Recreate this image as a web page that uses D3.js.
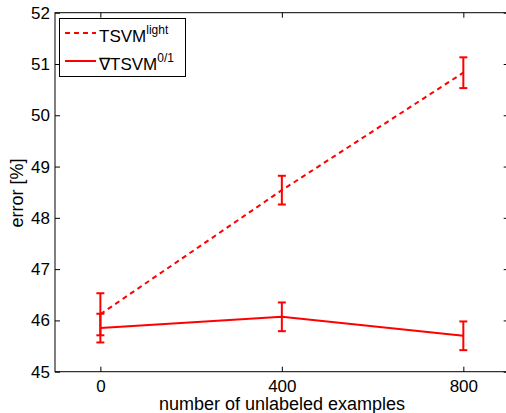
<!DOCTYPE html>
<html>
<head>
<meta charset="utf-8">
<script src="https://cdn.jsdelivr.net/npm/d3@7"></script>
<style>
  body { margin: 0; background: #fff; }
  svg { font-family: "Liberation Sans", Arial, sans-serif; }
</style>
</head>
<body>
<div id="chart"></div>
<script>
// data
const unlabeled = [0, 400, 800];
const tsvmLight = [46.12, 48.54, 50.83];
const tsvmLightErr = [0.41, 0.28, 0.30];
const gradTsvm = [45.85, 46.07, 45.70];
const gradTsvmErr = [0.28, 0.28, 0.28];
const xTicks = [0, 400, 800];
const yTicks = [45, 46, 47, 48, 49, 50, 51, 52];

const width = 506, height = 413;
const red = '#ff0000';

const svg = d3.select('#chart').append('svg')
    .attr('width', width)
    .attr('height', height);

const x = d3.scaleLinear().domain([-100, 900]).range([55, 508.7]);
const y = d3.scaleLinear().domain([45, 52]).range([371.7, 12.7]);

// axes box
const g = svg.append('g');
g.append('rect')
    .attr('x', x(-100)).attr('y', y(52))
    .attr('width', x(900) - x(-100)).attr('height', y(45) - y(52))
    .attr('fill', 'none').attr('stroke', '#000').attr('stroke-width', 1);

// ticks (inward, on all four sides like matlab)
const tl = 5;
const fmt = d3.format('d');
g.append('g')
    .attr('transform', `translate(0,${y(45)})`)
    .call(d3.axisBottom(x).tickValues(xTicks).tickFormat(fmt).tickSizeInner(-tl).tickSizeOuter(0).tickPadding(8))
    .call(a => a.select('.domain').remove());
g.append('g')
    .attr('transform', `translate(0,${y(52)})`)
    .call(d3.axisTop(x).tickValues(xTicks).tickSizeInner(-tl).tickSizeOuter(0).tickFormat(''))
    .call(a => a.select('.domain').remove());
g.append('g')
    .attr('transform', `translate(${x(-100)},0)`)
    .call(d3.axisLeft(y).tickValues(yTicks).tickFormat(fmt).tickSizeInner(-tl).tickSizeOuter(0).tickPadding(5))
    .call(a => a.select('.domain').remove());
g.append('g')
    .attr('transform', `translate(${x(900)},0)`)
    .call(d3.axisRight(y).tickValues(yTicks).tickSizeInner(-tl).tickSizeOuter(0).tickFormat(''))
    .call(a => a.select('.domain').remove());

svg.selectAll('.tick text')
    .attr('font-size', 17)
    .attr('fill', '#000')
    .attr('font-family', '"Liberation Sans", Arial, sans-serif');
svg.selectAll('.tick line').attr('stroke', '#000');

// labels
svg.append('text')
    .attr('x', 282).attr('y', 410)
    .attr('text-anchor', 'middle')
    .attr('font-size', 18)
    .text('number of unlabeled examples');
svg.append('text')
    .attr('transform', `translate(23,193) rotate(-90)`)
    .attr('text-anchor', 'middle')
    .attr('font-size', 18)
    .text('error [%]');

// series
const line = d3.line().x(d => x(d[0])).y(d => y(d[1]));

function drawSeries(vals, errs, dash) {
    const pts = unlabeled.map((u, i) => [u, vals[i], errs[i]]);
    svg.append('path')
        .datum(pts)
        .attr('d', line)
        .attr('fill', 'none')
        .attr('stroke', red)
        .attr('stroke-width', 2)
        .attr('stroke-dasharray', dash);
    const eb = svg.append('g').selectAll('g').data(pts).enter().append('g')
        .attr('stroke', red).attr('stroke-width', 2);
    eb.append('line')
        .attr('x1', d => x(d[0])).attr('x2', d => x(d[0]))
        .attr('y1', d => y(d[1] - d[2])).attr('y2', d => y(d[1] + d[2]));
    eb.append('line')
        .attr('x1', d => x(d[0]) - 4).attr('x2', d => x(d[0]) + 4)
        .attr('y1', d => y(d[1] - d[2])).attr('y2', d => y(d[1] - d[2]));
    eb.append('line')
        .attr('x1', d => x(d[0]) - 4).attr('x2', d => x(d[0]) + 4)
        .attr('y1', d => y(d[1] + d[2])).attr('y2', d => y(d[1] + d[2]));
}

drawSeries(tsvmLight, tsvmLightErr, '5,4');
drawSeries(gradTsvm, gradTsvmErr, null);

// legend
const leg = svg.append('g');
leg.append('rect')
    .attr('x', 59.5).attr('y', 18.5).attr('width', 126).attr('height', 58)
    .attr('fill', '#fff').attr('stroke', '#000').attr('stroke-width', 1);
const entries = [
    { name: 'TSVM', sup: 'light', dash: '5,4', y: 33 },
    { name: '\u2207TSVM', sup: '0/1', dash: null, y: 61 }
];
entries.forEach(e => {
    leg.append('line')
        .attr('x1', 65).attr('x2', 96).attr('y1', e.y).attr('y2', e.y)
        .attr('stroke', red).attr('stroke-width', 2)
        .attr('stroke-dasharray', e.dash);
    const t = leg.append('text')
        .attr('x', 99).attr('y', e.y + 9)
        .attr('font-size', 17);
    t.append('tspan').text(e.name);
    t.append('tspan').attr('font-size', 12).attr('dy', -8).text(e.sup);
});
</script>
</body>
</html>
